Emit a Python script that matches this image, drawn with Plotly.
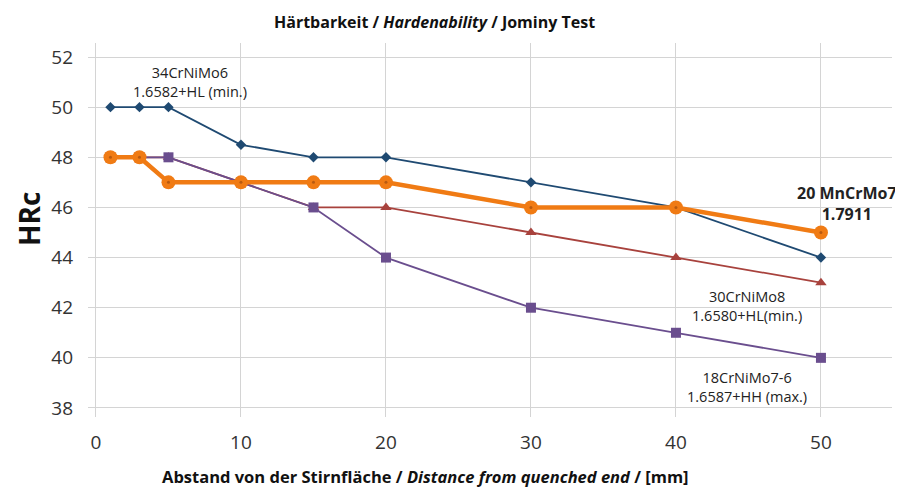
import plotly.graph_objects as go

x_mm = [1, 3, 5, 10, 15, 20, 30, 40, 50]
hrc_34CrNiMo6 = [50, 50, 50, 48.5, 48, 48, 47, 46, 44]
hrc_30CrNiMo8 = [48, 48, 48, 47, 46, 46, 45, 44, 43]
hrc_18CrNiMo7 = [48, 48, 48, 47, 46, 44, 42, 41, 40]
hrc_20MnCrMo7 = [48, 48, 47, 47, 47, 47, 46, 46, 45]
x_ticks = [0, 10, 20, 30, 40, 50]
y_ticks = [38, 40, 42, 44, 46, 48, 50, 52]

FONT = "Open Sans"
OFF = 8  # page body margin
W, H = 903 - OFF, 487 - OFF
ml, mr, mt, mb = 88 - OFF, 11, 43 - OFF, 70
pw, ph = W - ml - mr, H - mt - mb


def px2paper(sx, sy):
    fx, fy = sx - OFF, sy - OFF
    return (fx - ml) / pw, 1 - (fy - mt) / ph


fig = go.Figure()
fig.add_trace(go.Scatter(x=x_mm, y=hrc_34CrNiMo6, mode="lines+markers",
                         line=dict(color="#1f4a72", width=1.8),
                         marker=dict(symbol="diamond", size=8, color="#1f4a72")))
fig.add_trace(go.Scatter(x=x_mm, y=hrc_30CrNiMo8, mode="lines+markers",
                         line=dict(color="#a8423d", width=1.8),
                         marker=dict(symbol="triangle-up", size=10, color="#a8423d")))
fig.add_trace(go.Scatter(x=x_mm, y=hrc_18CrNiMo7, mode="lines+markers",
                         line=dict(color="#6a4e8e", width=1.8),
                         marker=dict(symbol="square", size=10, color="#6a4e8e")))
fig.add_trace(go.Scatter(x=x_mm, y=hrc_20MnCrMo7, mode="lines+markers",
                         line=dict(color="#f07b14", width=4.5),
                         marker=dict(symbol="circle", size=14, color="#f07b14")))
fig.add_trace(go.Scatter(x=x_mm, y=hrc_20MnCrMo7, mode="markers",
                         marker=dict(symbol="circle", size=3, color="#b85a10")))

ann = [
    dict(x=6.5, y=51.0, text="34CrNiMo6<br>1.6582+HL (min.)", size=14.5),
    dict(x=51.8, y=46.15, text="<b>20 MnCrMo7<br>1.7911</b>", size=16),
    dict(x=44.9, y=42.05, text="30CrNiMo8<br>1.6580+HL(min.)", size=14.5),
    dict(x=44.9, y=38.85, text="18CrNiMo7-6<br>1.6587+HH (max.)", size=14.5),
]
annotations = []
for a in ann:
    annotations.append(dict(x=a["x"], y=a["y"], xref="x", yref="y", text=a["text"],
                            showarrow=False, align="center", xanchor="center", yanchor="middle",
                            font=dict(family=FONT, size=a["size"], color="#222222")))

tx, ty = px2paper(434, 22)
annotations.append(dict(x=tx, y=ty, xref="paper", yref="paper", xanchor="center", yanchor="middle",
                        text="<b>Härtbarkeit / <i>Hardenability</i> / Jominy Test</b>",
                        showarrow=False, font=dict(family=FONT, size=16, color="#111111")))
tx, ty = px2paper(425, 476)
annotations.append(dict(x=tx, y=ty, xref="paper", yref="paper", xanchor="center", yanchor="middle",
                        text="<b>Abstand von der Stirnfläche / <i>Distance from quenched end</i> / [mm]</b>",
                        showarrow=False, font=dict(family=FONT, size=16.5, color="#111111")))
tx, ty = px2paper(29, 219)
annotations.append(dict(x=tx, y=ty, xref="paper", yref="paper", xanchor="center", yanchor="middle",
                        text="<b>HRc</b>", textangle=-90,
                        showarrow=False, font=dict(family=FONT, size=28, color="#111111")))

fig.update_layout(
    width=W, height=H,
    margin=dict(l=ml, r=mr, t=mt, b=mb, autoexpand=False),
    paper_bgcolor="white", plot_bgcolor="white",
    showlegend=False,
    annotations=annotations,
    font=dict(family=FONT, color="#333333"),
)
fig.update_xaxes(range=[-0.55, 54.9], tickvals=x_ticks, showgrid=True, gridcolor="#d4d4d4",
                 gridwidth=1, zeroline=False, showline=False, ticks="", automargin=False,
                 tickfont=dict(family=FONT, size=19, color="#333333"), ticklabelstandoff=12)
fig.update_yaxes(range=[37.64, 52.56], tickvals=y_ticks, showgrid=True, gridcolor="#d4d4d4",
                 gridwidth=1, zeroline=False, showline=False, ticks="", automargin=False,
                 tickfont=dict(family=FONT, size=19, color="#333333"), ticklabelstandoff=14)

fig.write_html("out.html")
